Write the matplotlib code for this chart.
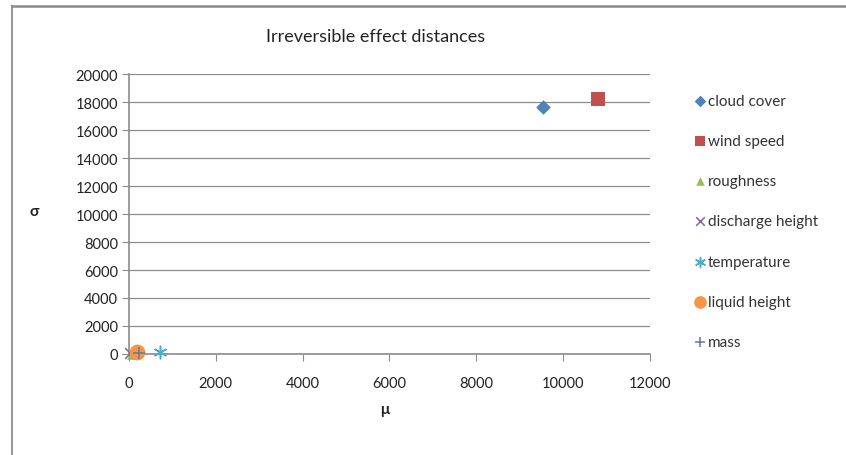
import matplotlib.pyplot as plt
from matplotlib.lines import Line2D

# series (mu, sigma)
names = ["cloud cover", "wind speed", "roughness", "discharge height",
         "temperature", "liquid height", "mass"]
mu = [9530, 10800, 60, 20, 720, 180, 220]
sigma = [17650, 18250, 20, 40, 120, 140, 60]
x_ticks = [0, 2000, 4000, 6000, 8000, 10000, 12000]
y_ticks = [0, 2000, 4000, 6000, 8000, 10000, 12000, 14000, 16000, 18000, 20000]

markers = ["D", "s", "^", "x", "*", "o", "+"]
colors = ["#4F81BD", "#C0504D", "#9BBB59", "#8064A2", "#4BACC6", "#F79646", "#5B7BA3"]
sizes = [55, 95, 60, 60, 80, 130, 70]

plt.rcParams['font.family'] = ['Lato', 'DejaVu Sans']

fig = plt.figure(figsize=(8.46, 4.56), dpi=100)
ax = fig.add_axes([0.1525, 0.2215, 0.6155, 0.614])

for i in range(len(names)):
    if markers[i] == "*":
        # asterisk style marker like the Excel one
        ax.scatter(mu[i], sigma[i], marker=(6, 2, 0), s=sizes[i], color=colors[i],
                   linewidths=1.1, label=names[i], clip_on=False, zorder=3)
    elif markers[i] in ("x", "+"):
        ax.scatter(mu[i], sigma[i], marker=markers[i], s=sizes[i], color=colors[i],
                   linewidths=1.1, label=names[i], clip_on=False, zorder=3)
    else:
        ax.scatter(mu[i], sigma[i], marker=markers[i], s=sizes[i], color=colors[i],
                   linewidths=0, label=names[i], clip_on=False, zorder=3)

ax.set_xlim(0, 12000)
ax.set_ylim(0, 20000)
ax.set_xticks(x_ticks)
ax.set_yticks(y_ticks)
ax.grid(axis='y', color='#8c8c8c', linewidth=0.9)
ax.set_axisbelow(True)
for side in ['top', 'right']:
    ax.spines[side].set_visible(False)
for side in ['left', 'bottom']:
    ax.spines[side].set_color('#8c8c8c')
    ax.spines[side].set_linewidth(1.2)
ax.tick_params(direction='out', length=5, color='#8c8c8c', labelsize=10.5,
               labelcolor='#222222', pad=3)
ax.tick_params(axis='x', pad=11)

fig.text(0.444, 0.918, "Irreversible effect distances", ha='center', va='center',
         fontsize=13, color='#222222')
fig.text(0.041, 0.535, "σ", ha='center', va='center', fontsize=11, fontweight='bold',
         color='#222222')
fig.text(0.455, 0.1, "μ", ha='center', va='center', fontsize=11, fontweight='bold',
         color='#222222')

leg = fig.legend(loc='upper left', bbox_to_anchor=(0.812, 0.805), frameon=False,
                 fontsize=11, labelspacing=1.71, handletextpad=0.05,
                 handlelength=0.9, borderaxespad=0, scatterpoints=1,
                 markerscale=0.8)
for t in leg.get_texts():
    t.set_color('#333333')

# outer chart frame (top and left edges visible in the crop)
fig.add_artist(Line2D([12 / 846, 12 / 846], [0, 1 - 7 / 456], color='#9a9a9a',
                      linewidth=1.5, transform=fig.transFigure))
fig.add_artist(Line2D([12 / 846, 1], [1 - 7 / 456, 1 - 7 / 456], color='#8a8a8a',
                      linewidth=1.8, transform=fig.transFigure))

fig.savefig('out.png', dpi=100)
